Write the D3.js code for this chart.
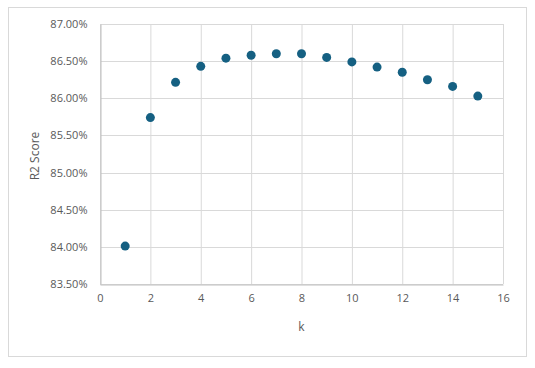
<!DOCTYPE html>
<html>
<head>
<meta charset="utf-8">
<script src="https://cdn.jsdelivr.net/npm/d3@7"></script>
<style>
  body { margin: 0; background: #fff; }
  text { font-family: "Open Sans", "Liberation Sans", sans-serif; fill: #595959; }
</style>
</head>
<body>
<div id="chart-area"></div>
<script>
// k vs R2 score (percent)
var kValues = [1, 2, 3, 4, 5, 6, 7, 8, 9, 10, 11, 12, 13, 14, 15];
var r2Scores = [84.01, 85.74, 86.215, 86.43, 86.54, 86.58, 86.60, 86.60, 86.55, 86.49, 86.42, 86.35, 86.25, 86.16, 86.03];
var xTicks = [0, 2, 4, 6, 8, 10, 12, 14, 16];
var yTicks = [83.5, 84, 84.5, 85, 85.5, 86, 86.5, 87];

var width = 535, height = 368;
var margin = { left: 100, right: 32, top: 24, bottom: 84 };

var svg = d3.select("#chart-area")
    .append("svg")
        .attr("width", width)
        .attr("height", height);

// outer frame
svg.append("rect")
    .attr("x", 8.5).attr("y", 7.5)
    .attr("width", 518).attr("height", 349)
    .attr("fill", "#fff")
    .attr("stroke", "#d9d9d9");

var x = d3.scaleLinear().domain([0, 16]).range([margin.left, width - margin.right]);
var y = d3.scaleLinear().domain([83.5, 87]).range([height - margin.bottom, margin.top]);

// gridlines
svg.append("g").selectAll("line").data(xTicks).enter().append("line")
    .attr("x1", function(d){ return x(d) + 0.5; })
    .attr("x2", function(d){ return x(d) + 0.5; })
    .attr("y1", y(87)).attr("y2", y(83.5))
    .attr("stroke", "#d9d9d9");
svg.append("g").selectAll("line").data(yTicks).enter().append("line")
    .attr("y1", function(d){ return Math.round(y(d)) + 0.5; })
    .attr("y2", function(d){ return Math.round(y(d)) + 0.5; })
    .attr("x1", x(0)).attr("x2", x(16))
    .attr("stroke", "#d9d9d9");

// axes
var xAxisCall = d3.axisBottom(x).tickValues(xTicks).tickSize(0).tickPadding(10);
svg.append("g")
    .attr("class", "x axis")
    .attr("transform", "translate(0," + (Math.round(y(83.5)) + 0.5) + ")")
    .call(xAxisCall)
    .call(function(g){ g.select(".domain").attr("stroke", "#bfbfbf"); })
    .selectAll("text").attr("font-size", "11px").attr("fill", "#595959");

var yAxisCall = d3.axisLeft(y).tickValues(yTicks).tickSize(0).tickPadding(13)
    .tickFormat(function(d){ return d.toFixed(2) + "%"; });
svg.append("g")
    .attr("class", "y axis")
    .attr("transform", "translate(" + (x(0) + 0.5) + ",0)")
    .call(yAxisCall)
    .call(function(g){ g.select(".domain").attr("stroke", "#bfbfbf"); })
    .selectAll("text").attr("font-size", "11px").attr("fill", "#595959");

// points
svg.append("g").selectAll("circle")
    .data(kValues)
    .enter()
    .append("circle")
        .attr("cx", function(d){ return x(d); })
        .attr("cy", function(d, i){ return y(r2Scores[i]); })
        .attr("r", 4.5)
        .attr("fill", "#156082");

// labels
svg.append("text")
    .attr("x", (x(0) + x(16)) / 2)
    .attr("y", 331)
    .attr("font-size", "12px")
    .attr("text-anchor", "middle")
    .text("k");

svg.append("text")
    .attr("transform", "translate(39," + 156 + ") rotate(-90)")
    .attr("font-size", "12px")
    .attr("text-anchor", "middle")
    .text("R2 Score");
</script>
</body>
</html>
